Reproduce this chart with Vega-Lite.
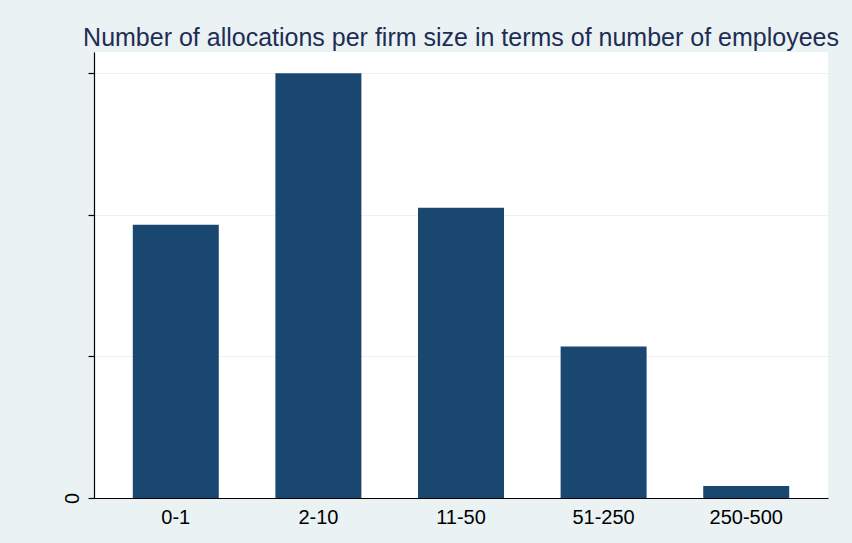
{
  "$schema": "https://vega.github.io/schema/vega-lite/v6.json",
  "autosize": {"type": "none"},
  "width": 734,
  "height": 446,
  "padding": {"left": 94, "top": 52, "right": 24, "bottom": 45},
  "background": "#EAF2F3",
  "title": {
    "text": "Number of allocations per firm size in terms of number of employees",
    "font": "Liberation Sans",
    "fontSize": 25,
    "fontWeight": "normal",
    "color": "#1E2D53",
    "anchor": "middle",
    "offset": 1
  },
  "config": {
    "view": {"fill": "white", "stroke": null}
  },
  "data": {
    "values": [
      {"size": "0-1", "count": 193},
      {"size": "2-10", "count": 300},
      {"size": "11-50", "count": 205},
      {"size": "51-250", "count": 107},
      {"size": "250-500", "count": 8.5}
    ]
  },
  "mark": {"type": "bar", "color": "#1A476F"},
  "encoding": {
    "x": {
      "field": "size",
      "type": "nominal",
      "sort": null,
      "title": null,
      "scale": {"paddingInner": 0.397, "paddingOuter": 0.272},
      "axis": {
        "labelAngle": 0,
        "labelFont": "Liberation Sans",
        "labelFontSize": 20,
        "labelColor": "#000000",
        "labelPadding": 9,
        "ticks": false,
        "domainColor": "#000000",
        "domainWidth": 1.2,
        "grid": false
      }
    },
    "y": {
      "field": "count",
      "type": "quantitative",
      "title": null,
      "scale": {"domain": [0, 315], "nice": false},
      "axis": {
        "values": [0, 100, 200, 300],
        "labelExpr": "datum.value == 0 ? '0' : ''",
        "labelAngle": -90,
        "labelAlign": "center",
        "labelBaseline": "bottom",
        "labelFont": "Liberation Sans",
        "labelFontSize": 20,
        "labelColor": "#000000",
        "labelPadding": 6,
        "tickColor": "#000000",
        "tickSize": 6,
        "tickWidth": 1.2,
        "domainColor": "#000000",
        "domainWidth": 1.2,
        "grid": true,
        "gridColor": "#EAF2F3",
        "gridWidth": 1
      }
    }
  }
}
